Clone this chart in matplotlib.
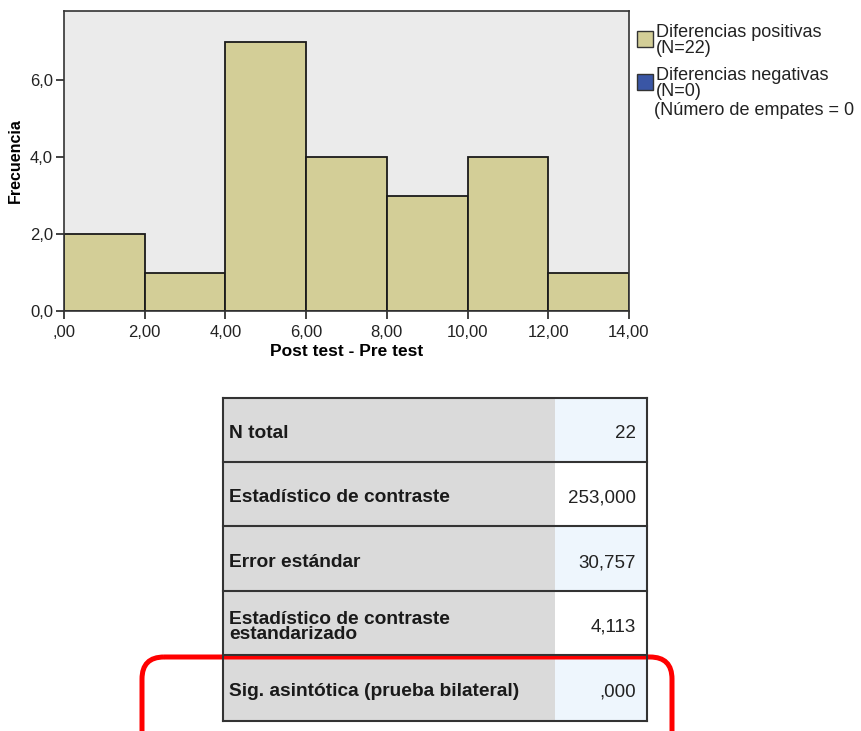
import matplotlib.pyplot as plt
from matplotlib.patches import Rectangle, FancyBboxPatch

plt.rcParams['font.family'] = ['Liberation Sans', 'DejaVu Sans']

# histogram data
bin_edges = [0, 2, 4, 6, 8, 10, 12, 14]
counts = [2, 1, 7, 4, 3, 4, 1]
xtick_vals = [0, 2, 4, 6, 8, 10, 12, 14]
xtick_labels = [',00', '2,00', '4,00', '6,00', '8,00', '10,00', '12,00', '14,00']
ytick_vals = [0, 2, 4, 6]
ytick_labels = ['0,0', '2,0', '4,0', '6,0']

legend_labels = ['Diferencias positivas\n(N=22)', 'Diferencias negativas\n(N=0)']
legend_colors = ['#d3ce97', '#3a56a5']
ties_label = '(Número de empates = 0'

# summary table
row_labels = ['N total', 'Estadístico de contraste', 'Error estándar',
              'Estadístico de contraste\nestandarizado',
              'Sig. asintótica (prueba bilateral)']
row_values = ['22', '253,000', '30,757', '4,113', ',000']

W, H = 862, 731
fig = plt.figure(figsize=(W / 100, H / 100), dpi=100)

# --- histogram ---
ax = fig.add_axes([64 / W, 1 - 311 / H, (629 - 64) / W, 300 / H])
ax.set_facecolor('#ebebeb')
widths = [bin_edges[i + 1] - bin_edges[i] for i in range(len(counts))]
ax.bar(bin_edges[:-1], counts, width=widths, align='edge',
       color='#d3ce97', edgecolor='#1a1a1a', linewidth=1.3)
ax.set_xlim(0, 14)
ax.set_ylim(0, 7.8)
ax.set_xticks(xtick_vals)
ax.set_xticklabels(xtick_labels, fontsize=12, color='#222222')
ax.set_yticks(ytick_vals)
ax.set_yticklabels(ytick_labels, fontsize=12, color='#222222')
ax.tick_params(direction='out', length=6, width=1.2, color='#222222', pad=2)
ax.tick_params(axis='x', pad=4)
for s in ax.spines.values():
    s.set_color('#333333')
    s.set_linewidth(1.2)
ax.set_xlabel('Post test - Pre test', fontsize=12.5, fontweight='bold', labelpad=3)
ax.set_ylabel('Frecuencia', fontsize=11.5, fontweight='bold', labelpad=5)

# --- overlay in pixel coordinates ---
ov = fig.add_axes([0, 0, 1, 1])
ov.set_xlim(0, W)
ov.set_ylim(H, 0)
ov.axis('off')

# legend
leg_y = [31, 74]
for lab, col, y in zip(legend_labels, legend_colors, leg_y):
    ov.add_patch(Rectangle((637, y), 16, 16, facecolor=col, edgecolor='#333333', lw=1))
    ov.text(656, y - 7, lab, fontsize=13, va='top', ha='left',
            linespacing=0.9, color='#222222')
ov.text(654, 102, ties_label, fontsize=13, va='top', ha='left', color='#222222')

# table
row_edges = [398, 462, 526, 591, 655, 721]
x0, xm, x1 = 223, 555, 647
val_bg = ['#eef6fd', '#ffffff', '#eef6fd', '#ffffff', '#eef6fd']
for i, (lab, val) in enumerate(zip(row_labels, row_values)):
    ya, yb = row_edges[i], row_edges[i + 1]
    ov.add_patch(Rectangle((x0, ya), xm - x0, yb - ya, facecolor='#dadada', edgecolor='none'))
    ov.add_patch(Rectangle((xm, ya), x1 - xm, yb - ya, facecolor=val_bg[i], edgecolor='none'))
    yc = (ya + yb) / 2 + 4
    ov.text(229, yc, lab, fontsize=13.8, fontweight='bold', va='center', ha='left',
            linespacing=0.85, color='#1a1a1a')
    ov.text(636, yc, val, fontsize=13.5, va='center', ha='right', color='#222222')
for y in row_edges:
    ov.plot([x0, x1], [y, y], color='#333333', lw=1.5)
ov.plot([x0, x0], [row_edges[0], row_edges[-1]], color='#333333', lw=1.5)
ov.plot([x1, x1], [row_edges[0], row_edges[-1]], color='#333333', lw=1.5)

# red highlight box
ov.add_patch(FancyBboxPatch((142, 657), 530, 120,
                            boxstyle='round,pad=0,rounding_size=22',
                            facecolor='none', edgecolor='#ff0000', lw=3.6))

fig.savefig('out.png', dpi=100)
